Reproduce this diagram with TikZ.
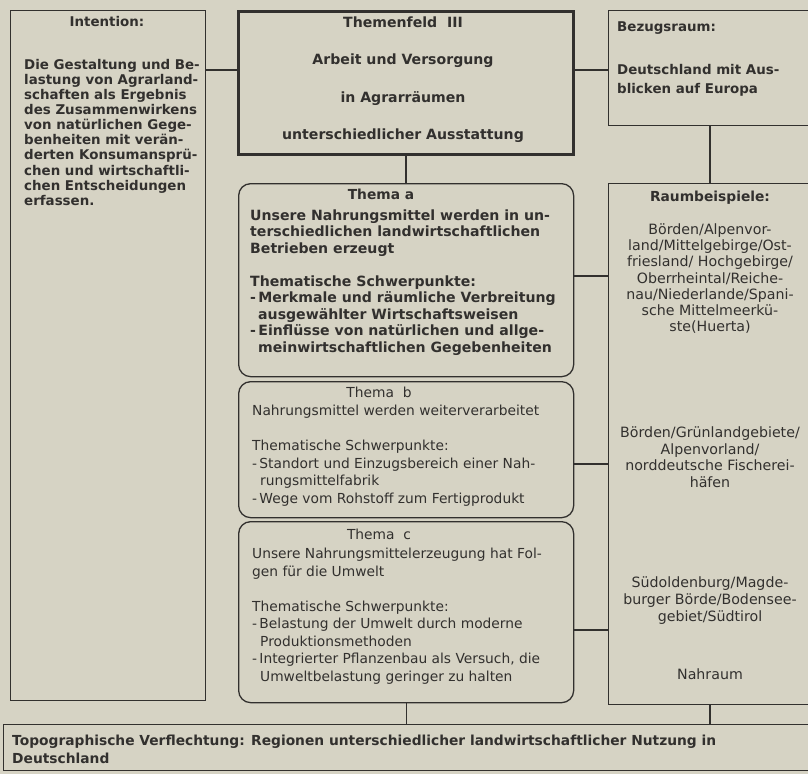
\documentclass[tikz,border=0pt]{standalone}
\usepackage{fontspec}
\setmainfont{DejaVu Sans}
\definecolor{paper}{RGB}{214,211,196}
\definecolor{ink}{RGB}{50,48,46}
\newcommand\setfs[2]{\fontsize{#1}{#2}\selectfont}

\begin{document}
\begin{tikzpicture}[x=1pt,y=-1pt,
  box/.style={draw=ink, line width=1.3pt, inner sep=0pt, anchor=north west},
  heavybox/.style={box, line width=3pt},
  roundbox/.style={box, rounded corners=12pt},
  link/.style={draw=ink, line width=1.2pt},
  txt/.style={text=ink, inner sep=0pt, anchor=north west, align=left},
  ctxt/.style={text=ink, inner sep=0pt, anchor=north, align=center}
]
\fill[paper] (0,0) rectangle (808,774);
\useasboundingbox (0,0) rectangle (808,774);

% frames
\node[box, minimum width=195pt, minimum height=690pt] (intent) at (10,10) {};
\node[heavybox, minimum width=335pt, minimum height=143pt] (feld) at (237,10) {};
\node[box, minimum width=210pt, minimum height=115pt] (bezug) at (608,10) {};
\node[box, minimum width=210pt, minimum height=521pt] (raum) at (608,183) {};
\node[roundbox, minimum width=335pt, minimum height=193pt] (ta) at (238,183) {};
\node[roundbox, minimum width=335pt, minimum height=136pt] (tb) at (238,381) {};
\node[roundbox, minimum width=335pt, minimum height=181pt] (tc) at (238,521) {};
\node[box, minimum width=815pt, minimum height=46pt] (topo) at (3,724) {};

% connector levels
\coordinate (ltop) at (0,70);
\coordinate (la) at (0,276);
\coordinate (lb) at (0,464);
\coordinate (lc) at (0,630);
\coordinate (rx) at (710,0);

\draw[link] (intent.east |- ltop) -- (feld.west |- ltop);
\draw[link] (feld.east |- ltop) -- (bezug.west |- ltop);
\draw[link] (feld.south) -- (feld.south |- ta.north);
\draw[link] (bezug.south -| rx) -- (raum.north -| rx);
\draw[link] (ta.east |- la) -- (raum.west |- la);
\draw[link] (tb.east |- lb) -- (raum.west |- lb);
\draw[link] (tc.east |- lc) -- (raum.west |- lc);
\draw[link] (tc.south) -- (tc.south |- topo.north);
\draw[link] (raum.south -| rx) -- (topo.north -| rx);

% Intention
\node[ctxt, font=\setfs{13.4}{15.1}\bfseries] (inthead) at (107,16) {Intention:};
\node[txt, font=\setfs{13.4}{15.1}\bfseries] (intbody) at (24,59) {Die Gestaltung und Be-\\
lastung von Agrarland-\\
schaften als Ergebnis\\
des Zusammenwirkens\\
von natürlichen Gege-\\
benheiten mit verän-\\
derten Konsumansprü-\\
chen und wirtschaftli-\\
chen Entscheidungen\\
erfassen.};

% Themenfeld
\node[ctxt, font=\setfs{14.1}{37.3}\bfseries] (feldtext) at (403,16.7) {Themenfeld~~III\\
Arbeit und Versorgung\\
in Agrarräumen\\
unterschiedlicher Ausstattung};

% Bezugsraum
\node[txt, font=\setfs{13.4}{19}\bfseries] (bezhead) at (617,22) {Bezugsraum:};
\node[txt, font=\setfs{13.4}{19}\bfseries] (bezbody) at (617,64) {Deutschland mit Aus-\\
blicken auf Europa};

% Thema a
\node[ctxt, font=\setfs{13.8}{16.5}\bfseries] (tahead) at (381,189) {Thema a};
\node[txt, font=\setfs{14.1}{16.5}\bfseries] (tabody) at (250,209.5) {Unsere Nahrungsmittel werden in un-\\
terschiedlichen landwirtschaftlichen\\
Betrieben erzeugt\\[16.5pt]
Thematische Schwerpunkte:\\
-\,Merkmale und räumliche Verbreitung\\
\hspace*{8pt}ausgewählter Wirtschaftsweisen\\
-\,Einflüsse von natürlichen und allge-\\
\hspace*{8pt}meinwirtschaftlichen Gegebenheiten};

% Thema b
\node[ctxt, font=\setfs{13.8}{17.5}] (tbhead) at (379,387) {Thema~~b};
\node[txt, font=\setfs{13.8}{17.5}] (tbbody) at (252,405) {Nahrungsmittel werden weiterverarbeitet\\[17.5pt]
Thematische Schwerpunkte:\\
-\,Standort und Einzugsbereich einer Nah-\\
\hspace*{8pt}rungsmittelfabrik\\
-\,Wege vom Rohstoff zum Fertigprodukt};

% Thema c
\node[ctxt, font=\setfs{13.8}{17.5}] (tchead) at (379,529) {Thema~~c};
\node[txt, font=\setfs{13.8}{17.5}] (tcbody) at (252,548) {Unsere Nahrungsmittelerzeugung hat Fol-\\
gen für die Umwelt\\[17.5pt]
Thematische Schwerpunkte:\\
-\,Belastung der Umwelt durch moderne\\
\hspace*{8pt}Produktionsmethoden\\
-\,Integrierter Pflanzenbau als Versuch, die\\
\hspace*{8pt}Umweltbelastung geringer zu halten};

% Raumbeispiele
\node[ctxt, font=\setfs{13.8}{16.2}\bfseries] (rhead) at (710,191) {Raumbeispiele:};
\node[ctxt, font=\setfs{14.2}{16.2}] (rone) at (710,223.5) {Börden/Alpenvor-\\
land/Mittelgebirge/Ost-\\
friesland/ Hochgebirge/\\
Oberrheintal/Reiche-\\
nau/Niederlande/Spani-\\
sche Mittelmeerkü-\\
ste(Huerta)};
\node[ctxt, font=\setfs{14.2}{16.7}] (rtwo) at (710,426.5) {Börden/Grünlandgebiete/\\
Alpenvorland/\\
norddeutsche Fischerei-\\
häfen};
\node[ctxt, font=\setfs{14.2}{17}] (rthree) at (710,576.5) {Südoldenburg/Magde-\\
burger Börde/Bodensee-\\
gebiet/Südtirol};
\node[ctxt, font=\setfs{14.2}{17}] (rfour) at (710,668.5) {Nahraum};

% Topographische Verflechtung
\node[txt, font=\setfs{13.8}{18}\bfseries] (topotext) at (12,735) {Topographische Verflechtung: Regionen unterschiedlicher landwirtschaftlicher Nutzung in\\
Deutschland};
\end{tikzpicture}
\end{document}
